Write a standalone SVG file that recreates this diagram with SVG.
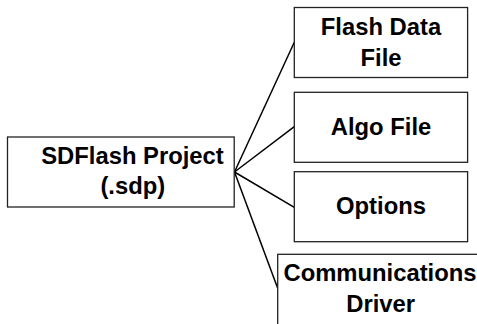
<svg xmlns="http://www.w3.org/2000/svg" width="477" height="324" viewBox="0 0 477 324">
<style>
.box{fill:#fff;stroke:#222;stroke-width:1.3}
.lbl{font-family:"Liberation Sans",Arial,sans-serif;font-weight:bold;font-size:23.8px;fill:#000;text-anchor:middle}
.con{stroke:#000;stroke-width:1.5;fill:none}
</style>
<rect width="477" height="324" fill="#fff"/>
<g id="connectors">
<line class="con" x1="234.5" y1="172" x2="294.3" y2="42.3"/>
<line class="con" x1="234.5" y1="172" x2="294.3" y2="126.7"/>
<line class="con" x1="234.5" y1="172" x2="294.3" y2="207.3"/>
<line class="con" x1="234.5" y1="172" x2="277.7" y2="288.3"/>
</g>
<g id="sdflash">
<rect class="box" x="7.5" y="137" width="226.7" height="70"/>
<text class="lbl" x="132.5" y="163.5">SDFlash Project</text>
<text class="lbl" x="132.8" y="193.5">(.sdp)</text>
</g>
<g id="flashdata">
<rect class="box" x="294.3" y="7.5" width="173.3" height="70"/>
<text class="lbl" x="381" y="35">Flash Data</text>
<text class="lbl" x="381" y="65.5">File</text>
</g>
<g id="algo">
<rect class="box" x="294.3" y="92.3" width="173.3" height="70"/>
<text class="lbl" x="381" y="134.5">Algo File</text>
</g>
<g id="options">
<rect class="box" x="294.3" y="171.7" width="173.3" height="70"/>
<text class="lbl" x="381" y="214">Options</text>
</g>
<g id="comms">
<rect class="box" x="277.7" y="254.3" width="220" height="90"/>
<text class="lbl" x="380" y="280.7">Communications</text>
<text class="lbl" x="380.7" y="312.3">Driver</text>
</g>
</svg>
